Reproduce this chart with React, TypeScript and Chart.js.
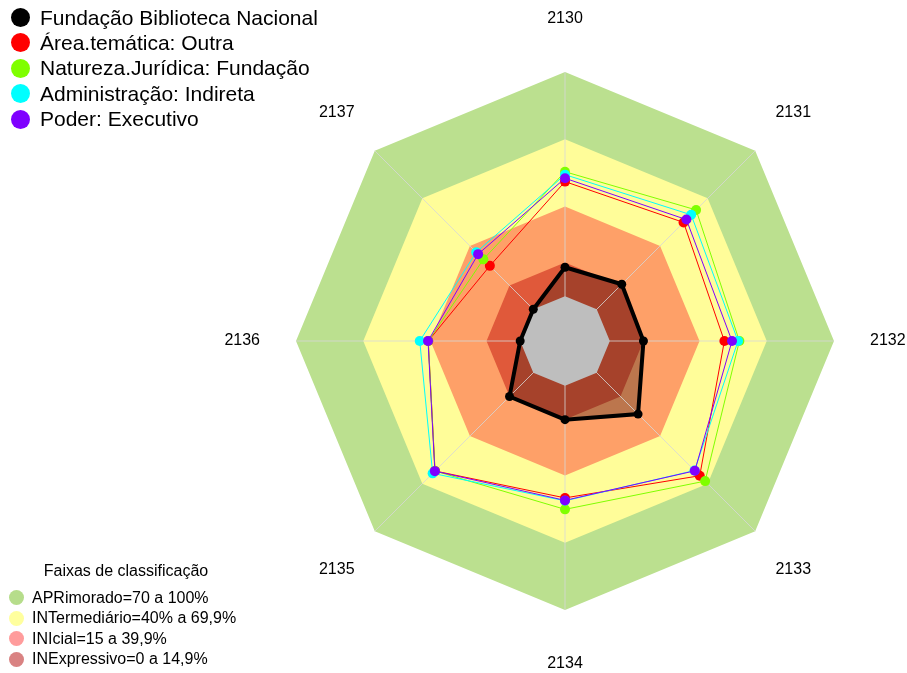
import React, { useEffect, useRef } from "react";
import { Chart, registerables } from "chart.js";

Chart.register(...registerables);

// ---------- data ----------
const categories = ["2130", "2131", "2132", "2133", "2134", "2135", "2136", "2137"];

const seriesNames = [
  "Fundação Biblioteca Nacional",
  "Área.temática: Outra",
  "Natureza.Jurídica: Fundação",
  "Administração: Indireta",
  "Poder: Executivo",
];
const seriesColors = ["#000000", "#FF0000", "#7FFF00", "#00FFFF", "#7F00FF"];

const fundacaoBN = [12.9, 15.8, 15.0, 26.1, 15.1, 15.0, 0, 0];
const areaOutra = [51.1, 54.8, 51.1, 65.0, 50.0, 62.0, 41.0, 27.4];
const naturezaFundacao = [55.5, 62.7, 57.8, 68.4, 55.1, 62.0, 41.0, 31.5];
const administracaoIndireta = [54.2, 59.6, 57.2, 61.7, 51.3, 63.5, 44.8, 36.0];
const poderExecutivo = [52.6, 56.6, 54.5, 61.9, 51.1, 62.1, 41.1, 34.8];

const bandLimits = [100, 70, 40, 15];
const bandColors = ["#BBE08F", "#FFFD99", "#FEA068", "#E0593A"];
const centerLimit = 0;
const centerColor = "#BEBEBE";

const bandLegendTitle = "Faixas de classificação";
const bandLegendLabels = [
  "APRimorado=70 a 100%",
  "INTermediário=40% a 69,9%",
  "INIcial=15 a 39,9%",
  "INExpressivo=0 a 14,9%",
];
const bandLegendColors = ["#B6DD8B", "#FFFF9E", "#FF9C9C", "#D98282"];

const scaleMin = -20;
const scaleMax = 100;
const labelValue = 124;

const FONT = "'Liberation Sans', Arial, sans-serif";

const filled = (v: number) => categories.map(() => v);

const overlayPlugin = {
  id: "overlayPlugin",
  afterDatasetDraw(chart: any, args: any) {
    const ds = chart.data.datasets[args.index];
    if (ds.label !== "fbn-fill") return;
    const r = chart.scales.r;
    const ctx = chart.ctx;
    ctx.save();
    ctx.strokeStyle = "rgba(215,215,215,0.8)";
    ctx.lineWidth = 1;
    const c = r.getPointPositionForValue(0, scaleMin);
    for (let i = 0; i < categories.length; i++) {
      const p = r.getPointPositionForValue(i, scaleMax);
      ctx.beginPath();
      ctx.moveTo(c.x, c.y);
      ctx.lineTo(p.x, p.y);
      ctx.stroke();
    }
    ctx.restore();
  },
  afterDraw(chart: any) {
    const r = chart.scales.r;
    const ctx = chart.ctx;
    ctx.save();
    ctx.fillStyle = "#000";
    ctx.font = `16px ${FONT}`;
    ctx.textAlign = "center";
    ctx.textBaseline = "middle";
    chart.data.labels.forEach((lab: string, i: number) => {
      const p = r.getPointPositionForValue(i, labelValue);
      ctx.fillText(lab, p.x, p.y);
    });
    ctx.restore();
  },
};

export default function App() {
  const ref = useRef<HTMLCanvasElement | null>(null);

  useEffect(() => {
    if (!ref.current) return;
    const bandSets = bandLimits.map((v, i) => ({
      label: "band-" + v,
      data: filled(v),
      backgroundColor: bandColors[i],
      borderWidth: 0,
      borderColor: "transparent",
      pointRadius: 0,
      fill: "start",
      order: 20 - i,
    }));
    const lineSeries = [fundacaoBN, areaOutra, naturezaFundacao, administracaoIndireta, poderExecutivo];
    const seriesSets = lineSeries.map((d, i) => ({
      label: seriesNames[i],
      data: d,
      borderColor: seriesColors[i],
      backgroundColor: seriesColors[i],
      borderWidth: i === 0 ? 4 : 1,
      pointRadius: i === 0 ? 4.5 : 5,
      pointBorderWidth: 0,
      pointBackgroundColor: seriesColors[i],
      fill: false,
      order: i === 0 ? 0 : 5 - i,
    }));
    const chart = new Chart(ref.current, {
      type: "radar",
      data: {
        labels: categories,
        datasets: [
          ...bandSets,
          {
            label: "fbn-fill",
            data: fundacaoBN,
            backgroundColor: "rgba(0,0,0,0.26)",
            borderWidth: 0,
            borderColor: "transparent",
            pointRadius: 0,
            fill: "start",
            order: 16,
          },
          {
            label: "center",
            data: filled(centerLimit),
            backgroundColor: centerColor,
            borderWidth: 0,
            borderColor: "transparent",
            pointRadius: 0,
            fill: "start",
            order: 15,
          },
          ...seriesSets,
        ] as any,
      },
      options: {
        responsive: false,
        animation: false,
        events: [],
        layout: { padding: { left: 296, right: 73, top: 72, bottom: 63 } },
        elements: { line: { tension: 0 } },
        plugins: { legend: { display: false }, tooltip: { enabled: false } },
        scales: {
          r: {
            min: scaleMin,
            max: scaleMax,
            ticks: { display: false },
            grid: { display: false },
            angleLines: { display: false },
            pointLabels: { display: false },
          },
        },
      } as any,
      plugins: [overlayPlugin],
    });
    return () => chart.destroy();
  }, []);

  return (
    <div style={{ position: "absolute", left: 0, top: 0, width: 907, height: 673, background: "#fff", fontFamily: FONT }}>
      <canvas ref={ref} width={907} height={673} style={{ display: "block", position: "absolute", left: 0, top: 0 }} />
      {seriesNames.map((name, i) => {
        const cy = 17.5 + i * 25.4;
        return (
          <React.Fragment key={name}>
            <div style={{ position: "absolute", left: 11, top: cy - 9.5, width: 19, height: 19, borderRadius: "50%", background: seriesColors[i] }} />
            <div style={{ position: "absolute", left: 40, top: cy - 13, height: 26, lineHeight: "26px", fontSize: 21, color: "#000", whiteSpace: "nowrap" }}>{name}</div>
          </React.Fragment>
        );
      })}
      <div style={{ position: "absolute", left: 0, width: 252, top: 571 - 10, height: 20, lineHeight: "20px", fontSize: 16, textAlign: "center", color: "#000", whiteSpace: "nowrap" }}>{bandLegendTitle}</div>
      {bandLegendLabels.map((lab, i) => {
        const cy = 597.7 + i * 20.5;
        return (
          <React.Fragment key={lab}>
            <div style={{ position: "absolute", left: 8.5, top: cy - 7.5, width: 15, height: 15, borderRadius: "50%", background: bandLegendColors[i] }} />
            <div style={{ position: "absolute", left: 32, top: cy - 10, height: 20, lineHeight: "20px", fontSize: 16, color: "#000", whiteSpace: "nowrap" }}>{lab}</div>
          </React.Fragment>
        );
      })}
    </div>
  );
}
